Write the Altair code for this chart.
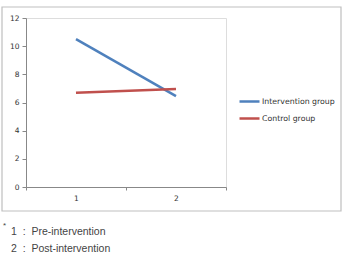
import altair as alt
import pandas as pd

# Mean scores at the two measurement points
groups = ["Intervention group", "Control group"]
time_points = [1, 2]
intervention_scores = [10.5, 6.45]
control_scores = [6.7, 6.95]
colors = ["#4F81BD", "#C0504D"]
y_ticks = [0, 2, 4, 6, 8, 10, 12]
footnote_lines = ["1\u00a0\u00a0:\u00a0\u00a0Pre-intervention", "2\u00a0\u00a0:\u00a0\u00a0Post-intervention"]

df = pd.DataFrame({
    "time": time_points * 2,
    "score": intervention_scores + control_scores,
    "group": [groups[0]] * 2 + [groups[1]] * 2,
})

axis_gray = "#888888"
label_color = "#333333"

x_axis = alt.Axis(
    values=[0.5, 1, 1.5, 2, 2.5],
    labelExpr="datum.value % 1 == 0 ? format(datum.value, 'd') : ''",
    tickOpacity={"condition": {"test": "datum.value % 1 == 0", "value": 0}, "value": 1},
    title=None, grid=False, domainColor=axis_gray, tickColor=axis_gray,
    tickSize=3, labelFontSize=7.5, labelColor=label_color, labelPadding=4,
    labelFont="DejaVu Sans",
)
y_axis = alt.Axis(
    values=y_ticks, title=None, grid=False, domainColor=axis_gray,
    tickColor=axis_gray, tickSize=4, labelFontSize=7.5, labelColor=label_color,
    labelPadding=3, labelFont="DejaVu Sans",
)

lines = alt.Chart(df).mark_line(strokeWidth=2.5, clip=False).encode(
    x=alt.X("time:Q", scale=alt.Scale(domain=[0.5, 2.5], nice=False, zero=False), axis=x_axis),
    y=alt.Y("score:Q", scale=alt.Scale(domain=[0, 12], nice=False), axis=y_axis),
    color=alt.Color(
        "group:N",
        scale=alt.Scale(domain=groups, range=colors),
        legend=alt.Legend(
            title=None, orient="none", legendX=212, legendY=72,
            symbolType="stroke", symbolStrokeWidth=2.5, symbolSize=400,
            labelFontSize=7.8, labelColor=label_color, labelFont="DejaVu Sans",
            rowPadding=-3, labelOffset=1,
        ),
    ),
    detail="group:N",
)

# Chart frame around the plot and legend
frame = alt.Chart(pd.DataFrame({"f": [0]})).mark_rect(
    fill=None, stroke="#BFBFBF", strokeWidth=1.2, clip=False
).encode(x=alt.value(-24), x2=alt.value(315), y=alt.value(-11), y2=alt.value(193))

note_font = "Liberation Sans"
star = alt.Chart(pd.DataFrame({"t": ["*"]})).mark_text(
    align="left", baseline="middle", fontSize=8, color="#444444", font=note_font
).encode(x=alt.value(-23), y=alt.value(208), text="t:N")

foot1 = alt.Chart(pd.DataFrame({"t": [footnote_lines[0]]})).mark_text(
    align="left", baseline="middle", fontSize=10.5, color="#444444", font=note_font
).encode(x=alt.value(-15), y=alt.value(213.5), text="t:N")

foot2 = alt.Chart(pd.DataFrame({"t": [footnote_lines[1]]})).mark_text(
    align="left", baseline="middle", fontSize=10.5, color="#444444", font=note_font
).encode(x=alt.value(-15), y=alt.value(230.5), text="t:N")

chart = alt.layer(frame, lines, star, foot1, foot2).properties(
    width=200, height=169,
    padding={"left": 26, "top": 18, "right": 116, "bottom": 70},
    autosize=alt.AutoSizeParams(type="none"),
).configure_view(stroke=None).configure(background="white")

chart.save("out.html", embed_options={"renderer": "svg", "actions": False})
